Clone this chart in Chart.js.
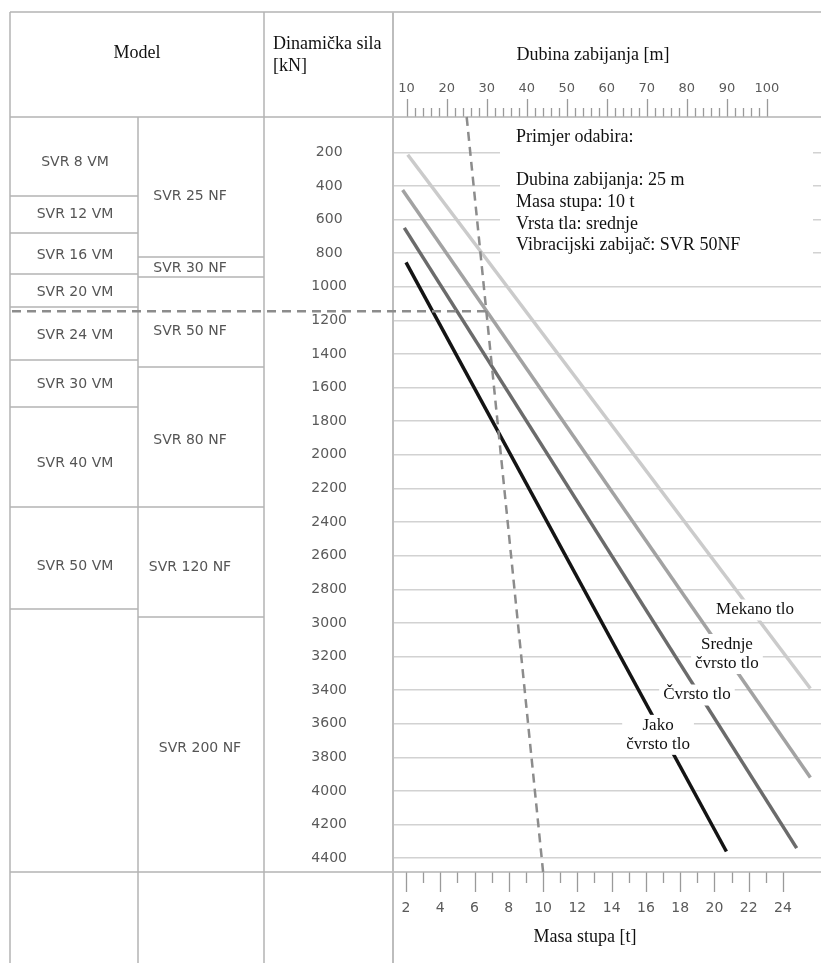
<!DOCTYPE html>
<html lang="hr">
<head>
<meta charset="utf-8">
<title>Odabir vibracijskog zabijača</title>
<script src="https://cdn.jsdelivr.net/npm/chart.js@4.4.1/dist/chart.umd.min.js"></script>
<style>
  html, body { margin: 0; padding: 0; background: #fff; }
  canvas { display: block; }
</style>
</head>
<body>
<canvas id="chart" width="821" height="963"></canvas>
<script>
// soil lines: pile mass [t] -> dynamic force [kN], start and end point of each line
const soilTypes = ['Mekano tlo', 'Srednje čvrsto tlo', 'Čvrsto tlo', 'Jako čvrsto tlo'];
const soilMass = [[2.1, 25.6], [1.8, 25.6], [1.9, 24.8], [2.0, 20.7]];
const soilForce = [[215, 3390], [425, 3920], [650, 4340], [855, 4360]];

// model table
const vmModels = ['SVR 8 VM', 'SVR 12 VM', 'SVR 16 VM', 'SVR 20 VM', 'SVR 24 VM', 'SVR 30 VM', 'SVR 40 VM', 'SVR 50 VM'];
const nfModels = ['SVR 25 NF', 'SVR 30 NF', 'SVR 50 NF', 'SVR 80 NF', 'SVR 120 NF', 'SVR 200 NF'];

// worked example
const exampleDepth = 25;   // m
const exampleMass = 10;    // t
const exampleForce = 1145; // kN
const exampleSoil = 'srednje';
const exampleModel = 'SVR 50NF';

// ---- styling / layout ----
const SERIF = '"Liberation Serif", "Times New Roman", serif';
const SANS = '"DejaVu Sans", sans-serif';
const soilColors = ['#cbcbcb', '#a2a2a2', '#6b6b6b', '#141414'];
const soilLabelLines = [['Mekano tlo'], ['Srednje', 'čvrsto tlo'], ['Čvrsto tlo'], ['Jako', 'čvrsto tlo']];
const soilLabelAt = [[22.37, 2923], [20.73, 3185], [18.98, 3429], [16.71, 3666]]; // anchor in mass/force units

const colX = [10, 138, 264];
const tableTop = 12;
const vmEdges = [196, 233, 274, 307, 360, 407, 507, 609];
const vmLabelY = [162, 214, 255, 292, 335, 384, 463, 566];
const nfEdges = [257, 277, 367, 507, 617];
const nfLabelY = [196, 268, 331, 440, 567, 748];
const nfLabelX = [190, 190, 190, 190, 190, 200];

const exampleLines = [
  'Primjer odabira:',
  '',
  `Dubina zabijanja: ${exampleDepth} m`,
  `Masa stupa: ${exampleMass} t`,
  `Vrsta tla: ${exampleSoil}`,
  `Vibracijski zabijač: ${exampleModel}`,
];

function line(ctx, x1, y1, x2, y2) {
  ctx.beginPath();
  ctx.moveTo(x1, y1);
  ctx.lineTo(x2, y2);
  ctx.stroke();
}

function drawRuler(ctx, scale, y, dir, isMajor, majorLen, minorLen) {
  ctx.save();
  ctx.strokeStyle = '#9a9a9a';
  ctx.lineWidth = 1.3;
  ctx.beginPath();
  scale.ticks.forEach(t => {
    const x = Math.round(scale.getPixelForValue(t.value)) + 0.5;
    ctx.moveTo(x, y);
    ctx.lineTo(x, y + dir * (isMajor(t.value) ? majorLen : minorLen));
  });
  ctx.stroke();
  ctx.restore();
}

const sheetPlugin = {
  id: 'sheet',
  beforeDatasetsDraw(chart) {
    // white panel with the worked example
    const ctx = chart.ctx;
    const area = chart.chartArea;
    ctx.save();
    ctx.fillStyle = '#fff';
    ctx.fillRect(area.left + 107, area.top + 1, 313, 154);
    ctx.fillStyle = '#111';
    ctx.font = '18px ' + SERIF;
    ctx.textBaseline = 'middle';
    ctx.textAlign = 'left';
    exampleLines.forEach((t, i) => ctx.fillText(t, area.left + 123, 137 + i * 21.7));
    ctx.restore();
  },
  afterDatasetsDraw(chart) {
    const ctx = chart.ctx;
    const area = chart.chartArea;
    const {depth, mass, force} = chart.scales;
    const W = chart.width, H = chart.height;

    // soil labels
    ctx.save();
    ctx.font = '17px ' + SERIF;
    ctx.textAlign = 'center';
    ctx.textBaseline = 'middle';
    soilLabelLines.forEach((lines, i) => {
      const cx = mass.getPixelForValue(soilLabelAt[i][0]);
      const cy = force.getPixelForValue(soilLabelAt[i][1]);
      const lh = 19;
      const w = Math.max(...lines.map(t => ctx.measureText(t).width)) + 8;
      const h = lines.length * lh + 2;
      ctx.fillStyle = '#fff';
      ctx.fillRect(cx - w / 2, cy - h / 2, w, h);
      ctx.fillStyle = '#111';
      lines.forEach((t, j) => ctx.fillText(t, cx, cy + (j - (lines.length - 1) / 2) * lh));
    });
    ctx.restore();

    // rulers
    drawRuler(ctx, depth, area.top, -1, v => v % 10 === 0, 18, 9);
    drawRuler(ctx, mass, area.bottom, 1, v => v % 2 === 0, 20, 11);

    // table frame
    ctx.save();
    ctx.strokeStyle = '#b3b3b3';
    ctx.lineWidth = 1.5;
    line(ctx, colX[0], tableTop, W, tableTop);
    line(ctx, colX[0], area.top, W, area.top);
    line(ctx, colX[0], area.bottom, W, area.bottom);
    line(ctx, colX[0], tableTop, colX[0], H);
    line(ctx, colX[1], area.top, colX[1], H);
    line(ctx, colX[2], tableTop, colX[2], H);
    vmEdges.forEach(y => line(ctx, colX[0], y, colX[1], y));
    nfEdges.forEach(y => line(ctx, colX[1], y, colX[2], y));
    ctx.strokeStyle = '#bdbdbd';
    ctx.lineWidth = 2;
    line(ctx, area.left, tableTop, area.left, H);
    ctx.restore();

    // table labels
    ctx.save();
    ctx.fillStyle = '#555';
    ctx.font = '14px ' + SANS;
    ctx.textAlign = 'center';
    ctx.textBaseline = 'middle';
    vmModels.forEach((m, i) => ctx.fillText(m, 75, vmLabelY[i]));
    nfModels.forEach((m, i) => ctx.fillText(m, nfLabelX[i], nfLabelY[i]));

    // headers and axis titles
    ctx.fillStyle = '#111';
    ctx.font = '18px ' + SERIF;
    ctx.fillText('Model', 137, 53);
    ctx.fillText('Dubina zabijanja [m]', 593, 55);
    ctx.fillText('Masa stupa [t]', 585, 937);
    ctx.textAlign = 'left';
    ctx.fillText('Dinamička sila', 273, 44);
    ctx.fillText('[kN]', 273, 66);
    ctx.restore();

    // dashed selection lines
    const x0 = depth.getPixelForValue(exampleDepth);
    const x1 = mass.getPixelForValue(exampleMass);
    const yF = force.getPixelForValue(exampleForce);
    const xF = x0 + (x1 - x0) * (yF - area.top) / (area.bottom - area.top);
    ctx.save();
    ctx.strokeStyle = '#8c8c8c';
    ctx.lineWidth = 2.5;
    ctx.setLineDash([9, 6]);
    line(ctx, x0, area.top, x1, area.bottom);
    line(ctx, colX[0] + 2, yF, xF, yF);
    ctx.restore();
  },
};

const tickFont = size => ({ family: SANS, size: size });

new Chart(document.getElementById('chart'), {
  type: 'line',
  data: {
    datasets: soilTypes.map((name, i) => ({
      label: name,
      data: soilMass[i].map((m, j) => ({ x: m, y: soilForce[i][j] })),
      borderColor: soilColors[i],
      borderWidth: 3.5,
      pointRadius: 0,
      xAxisID: 'mass',
      yAxisID: 'force',
    })),
  },
  options: {
    responsive: false,
    animation: false,
    events: [],
    devicePixelRatio: 1,
    layout: { padding: { left: 264, top: 0, right: 0, bottom: 0 } },
    plugins: {
      legend: { display: false },
      tooltip: { enabled: false },
    },
    scales: {
      depth: {
        type: 'linear',
        axis: 'x',
        position: 'top',
        min: 6.6,
        max: 113.5,
        grid: { display: false, drawTicks: false },
        border: { display: false },
        ticks: {
          stepSize: 2,
          includeBounds: false,
          autoSkip: false,
          maxRotation: 0,
          padding: 21,
          color: '#5a5a5a',
          font: tickFont(13),
          callback: v => (v % 10 === 0 ? String(v) : ''),
        },
        afterBuildTicks: s => { s.ticks = s.ticks.filter(t => t.value >= 10 && t.value <= 100); },
        afterFit: s => { s.height = 117; },
      },
      mass: {
        type: 'linear',
        axis: 'x',
        position: 'bottom',
        min: 1.24,
        max: 26.22,
        grid: { display: false, drawTicks: false },
        border: { display: false },
        ticks: {
          stepSize: 1,
          includeBounds: false,
          autoSkip: false,
          maxRotation: 0,
          padding: 28,
          color: '#5a5a5a',
          font: tickFont(14),
          callback: v => (v % 2 === 0 ? String(v) : ''),
        },
        afterBuildTicks: s => { s.ticks = s.ticks.filter(t => t.value >= 2 && t.value <= 24); },
        afterFit: s => { s.height = 91; },
      },
      force: {
        type: 'linear',
        axis: 'y',
        position: 'left',
        reverse: true,
        min: -10,
        max: 4482,
        grid: { color: '#d2d2d2', lineWidth: 1.5, drawTicks: false },
        border: { display: false },
        ticks: {
          stepSize: 200,
          includeBounds: false,
          autoSkip: false,
          crossAlign: 'center',
          padding: 46,
          color: '#5a5a5a',
          font: tickFont(14),
          callback: v => String(v),
        },
        afterBuildTicks: s => { s.ticks = s.ticks.filter(t => t.value >= 200); },
        afterFit: s => { s.width = 129; },
      },
    },
  },
  plugins: [sheetPlugin],
});
</script>
</body>
</html>
